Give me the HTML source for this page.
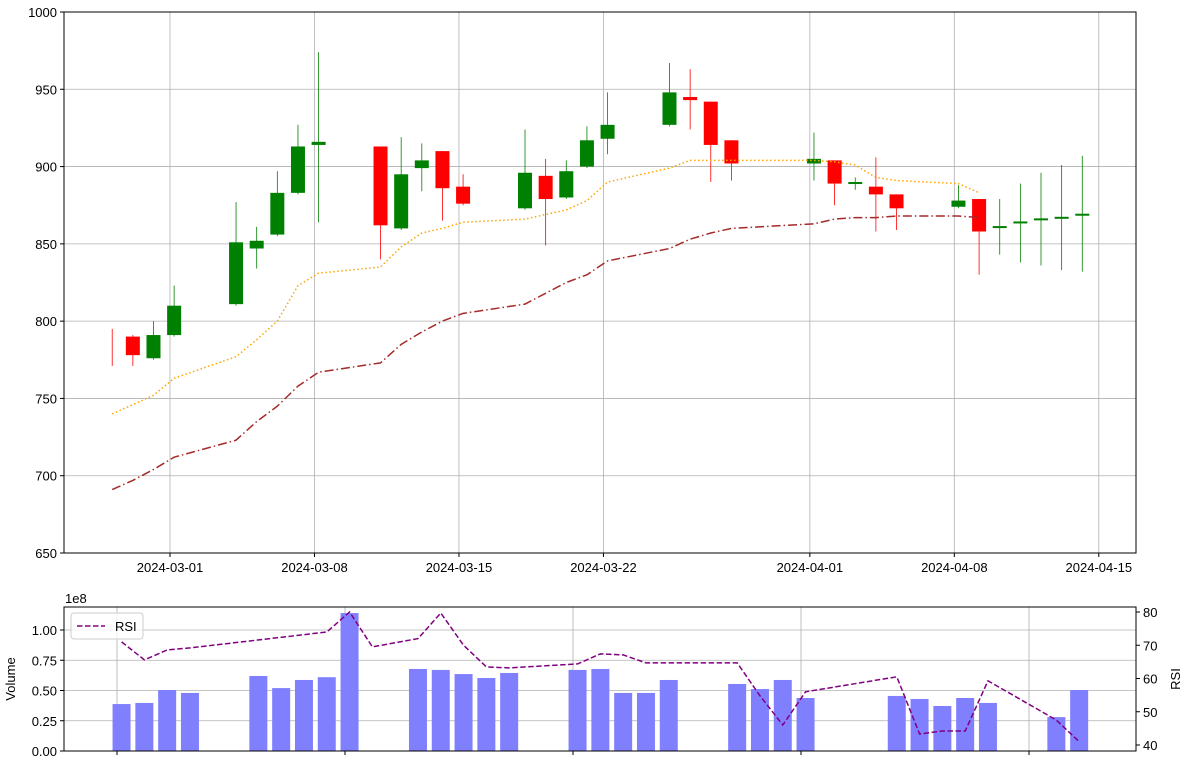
<!DOCTYPE html>
<html><head><meta charset="utf-8">
<style>
body{margin:0;background:#fff;}
svg{display:block;font-family:"Liberation Sans","DejaVu Sans",sans-serif;}
</style></head>
<body>
<svg id="c" width="1188" height="762"></svg>
<script>
// ---- data ----
const candleDays = [0,1,2,3,6,7,8,9,10,13,14,15,16,17,20,21,22,23,24,27,28,29,30,34,35,36,37,38,41,42,43,44,45,46,47];
const opens  = [783,790,776,791,811,847,856,883,914,913,860,899,910,887,873,894,880,900,918,927,945,942,917,902,904,889,887,882,874,879,861,864,866,867,869];
const highs  = [795,791,800,823,877,861,897,927,974,913,919,915,910,895,924,905,904,926,948,967,963,942,917,922,904,893,906,882,888,879,879,889,896,901,907];
const lows   = [771,771,775,790,810,834,855,882,864,840,859,884,865,875,872,849,879,899,908,926,924,890,891,891,875,885,858,859,873,830,843,838,836,833,832];
const closes = [783,778,791,810,851,852,883,913,916,862,895,904,886,876,896,879,897,917,927,948,943,914,902,905,889,890,882,873,878,858,861.5,864.5,866.5,867.5,869.5];
const maDays = [0,1,2,3,6,7,8,9,10,13,14,15,16,17,20,21,22,23,24,27,28,29,30,34,35,36,37,38,41,42];
const maFast = [740,746,752,763,777,788,800,823,831,835,848,857,860,864,866,869,872,878,890,899,904,904,904,904,903,901,893,891,889,883];
const maSlow = [691,697,704,712,723,735,745,758,767,773,785,793,800,805,811,818,825,830,839,847,853,857,860,863,866,867,867,868,868,867];
const volDays = [0,1,2,3,6,7,8,9,10,13,14,15,16,17,20,21,22,23,24,27,28,29,30,34,35,36,37,38,41,42];
const volumes = [0.388,0.397,0.504,0.48,0.62,0.52,0.587,0.61,1.14,0.678,0.67,0.636,0.603,0.645,0.67,0.678,0.48,0.48,0.587,0.554,0.512,0.587,0.438,0.455,0.43,0.372,0.438,0.397,0.28,0.504];
const rsi = [71,65.6,68.6,69.2,74,80,69.5,72,79.7,70,63.5,63.2,64.4,67.4,67.1,64.7,64.7,64.7,54.8,46,56,60.5,43.3,44.2,44.2,59.3,47.5,41];
const rsiDays = [0,1,2,3,9,10,11,13,14,15,16,17,20,21,22,23,24,27,28,29,30,34,35,36,37,38,41,42];
const priceTicks = [650,700,750,800,850,900,950,1000];
const dateTicks = ["2024-03-01","2024-03-08","2024-03-15","2024-03-22","2024-04-01","2024-04-08","2024-04-15"];
const dateTickDays = [3,10,17,24,34,41,48];
const volTicks = [0,0.25,0.5,0.75,1.0];
const rsiTicks = [40,50,60,70,80];

// ---- axes ----
const M={l:64,r:1136,t:12,b:553}, B={l:64,r:1136,t:607,b:751};
const xM=d=>170+20.64*(d-3+0.2);
const xMt=d=>170+20.64*(d-3);
const yM=v=>M.t+(1000-v)/350*(M.b-M.t);
const xB=d=>117+22.8*(d+0.2);
const yV=v=>B.b-v*121;
const yR=v=>612+(80-v)*3.325;
const NS="http://www.w3.org/2000/svg";
const svg=document.getElementById('c');
function mk(t,a,p){const e=document.createElementNS(NS,t);for(const k in a)e.setAttribute(k,a[k]);(p||svg).appendChild(e);return e;}

const gM=mk('g',{});


dateTickDays.forEach((d,i)=>{const x=xMt(d);
 mk('line',{x1:x,x2:x,y1:M.t,y2:M.b,stroke:'#b0b0b0','stroke-width':0.8},gM);
 mk('line',{x1:x,x2:x,y1:M.b,y2:M.b+4,stroke:'#000'},gM);
 const t=mk('text',{x:x,y:M.b+19,'font-size':13,'text-anchor':'middle'},gM);t.textContent=dateTicks[i];
 
 });
priceTicks.forEach(v=>{const y=yM(v);
 mk('line',{x1:M.l,x2:M.r,y1:y,y2:y,stroke:'#b0b0b0','stroke-width':0.8},gM);
 mk('line',{x1:M.l-4,x2:M.l,y1:y,y2:y,stroke:'#000'},gM);
 const t=mk('text',{x:M.l-7,y:y+5,'font-size':13,'text-anchor':'end'},gM);t.textContent=v;
 
 });
candleDays.forEach((d,i)=>{const x=xM(d),o=opens[i],c=closes[i],col=c>o?'#008000':'#ff0000';
 const g=mk('g',{},gM);
 
 
 mk('line',{x1:x,x2:x,y1:yM(highs[i]),y2:yM(lows[i]),stroke:col,'stroke-width':0.8},g);
 if(o!==c){const top=yM(Math.max(o,c)),h=Math.max(2,Math.abs(yM(o)-yM(c)));
 mk('rect',{x:x-7,y:top,width:14,height:h,fill:col},g);}});
function path(days,vals,fx,fy){return days.map((d,i)=>(i?'L':'M')+fx(d).toFixed(1)+','+fy(vals[i]).toFixed(1)).join('');}
const pf=mk('path',{d:path(maDays,maFast,xM,yM),fill:'none',stroke:'#ffa500','stroke-width':1.5,'stroke-dasharray':'1.5,2.5'},gM);

const ps=mk('path',{d:path(maDays,maSlow,xM,yM),fill:'none',stroke:'#a52a2a','stroke-width':1.5,'stroke-dasharray':'9,3,1.5,3'},gM);

mk('rect',{x:M.l,y:M.t,width:M.r-M.l,height:M.b-M.t,fill:'none',stroke:'#000','stroke-width':1},gM);

const gB=mk('g',{});


[0,10,20,30,40].forEach(d=>{const x=117+22.8*d;
 mk('line',{x1:x,x2:x,y1:B.t,y2:B.b,stroke:'#b0b0b0','stroke-width':0.8},gB);
 mk('line',{x1:x,x2:x,y1:B.b,y2:B.b+4,stroke:'#000'},gB);});
volTicks.forEach(v=>{const y=yV(v);
 mk('line',{x1:B.l,x2:B.r,y1:y,y2:y,stroke:'#b0b0b0','stroke-width':0.8},gB);
 mk('line',{x1:B.l-4,x2:B.l,y1:y,y2:y,stroke:'#000'},gB);
 const t=mk('text',{x:B.l-7,y:y+5,'font-size':13,'text-anchor':'end'},gB);t.textContent=v.toFixed(2);
 });
volDays.forEach((d,i)=>{const x=xB(d);
 const r=mk('rect',{x:x-9,y:yV(volumes[i]),width:18,height:B.b-yV(volumes[i]),fill:'#8080ff'},gB);
 });
rsiTicks.forEach(v=>{const y=yR(v);
 mk('line',{x1:B.r,x2:B.r+4,y1:y,y2:y,stroke:'#000'},gB);
 const t=mk('text',{x:B.r+7,y:y+5,'font-size':13},gB);t.textContent=v;
 });
const pr=mk('path',{d:path(rsiDays,rsi,xB,yR),fill:'none',stroke:'#800080','stroke-width':1.5,'stroke-dasharray':'5.5,2.5'},gB);

mk('rect',{x:B.l,y:B.t,width:B.r-B.l,height:B.b-B.t,fill:'none',stroke:'#000','stroke-width':1},gB);
let t=mk('text',{x:65,y:603,'font-size':13},gB);t.textContent='1e8';

t=mk('text',{x:15,y:679,'font-size':13,'text-anchor':'middle',transform:'rotate(-90 15 679)'},gB);t.textContent='Volume';

t=mk('text',{x:1180,y:679,'font-size':13,'text-anchor':'middle',transform:'rotate(-90 1180 679)'},gB);t.textContent='RSI';

const lg=mk('g',{},gB);

mk('rect',{x:71,y:613,width:72,height:26,rx:3,fill:'#fff','fill-opacity':0.8,stroke:'#ccc'},lg);
mk('line',{x1:77,x2:105,y1:626,y2:626,stroke:'#800080','stroke-width':1.5,'stroke-dasharray':'5.5,2.5'},lg);
t=mk('text',{x:115,y:631,'font-size':13},lg);t.textContent='RSI';
</script>
</body></html>
